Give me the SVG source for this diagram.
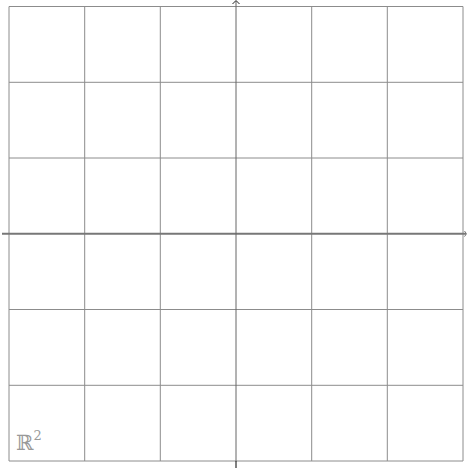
<svg xmlns="http://www.w3.org/2000/svg" width="467" height="468" viewBox="0 0 467 468">
<style>
.grid line{stroke:#8c8c8c;stroke-width:1}
.ax{stroke:#777;fill:none}
</style>
<rect width="467" height="468" fill="#fff"/>
<g class="grid" id="grid">
<line x1="9" y1="6.5" x2="9" y2="461"/>
<line x1="84.7" y1="6.5" x2="84.7" y2="461"/>
<line x1="160.3" y1="6.5" x2="160.3" y2="461"/>
<line x1="311.7" y1="6.5" x2="311.7" y2="461"/>
<line x1="387.3" y1="6.5" x2="387.3" y2="461"/>
<line x1="463" y1="6.5" x2="463" y2="461"/>
<line x1="9" y1="6.5" x2="463" y2="6.5"/>
<line x1="9" y1="82.3" x2="463" y2="82.3"/>
<line x1="9" y1="158" x2="463" y2="158"/>
<line x1="9" y1="309.5" x2="463" y2="309.5"/>
<line x1="9" y1="385.3" x2="463" y2="385.3"/>
<line x1="9" y1="461" x2="463" y2="461"/>
</g>
<g id="axes">
<line class="ax" x1="2" y1="233.8" x2="466" y2="233.8" stroke-width="2"/>
<path class="ax" d="M464.5 231 L466.5 233.8 L464.5 236.6" stroke-width="1"/>
<line x1="236" y1="1" x2="236" y2="461" stroke="#666" stroke-width="1"/>
<line x1="236" y1="461" x2="236" y2="468" stroke="#000" stroke-width="1"/>
<path d="M232.5 4 L236 0.5 L239.5 4" fill="none" stroke="#222" stroke-width="1"/>
</g>
<g id="label">
<text x="16" y="450" font-family="DejaVu Serif, serif" font-size="21" fill="#999">ℝ<tspan dy="-10" font-size="13">2</tspan></text>
</g>
</svg>
